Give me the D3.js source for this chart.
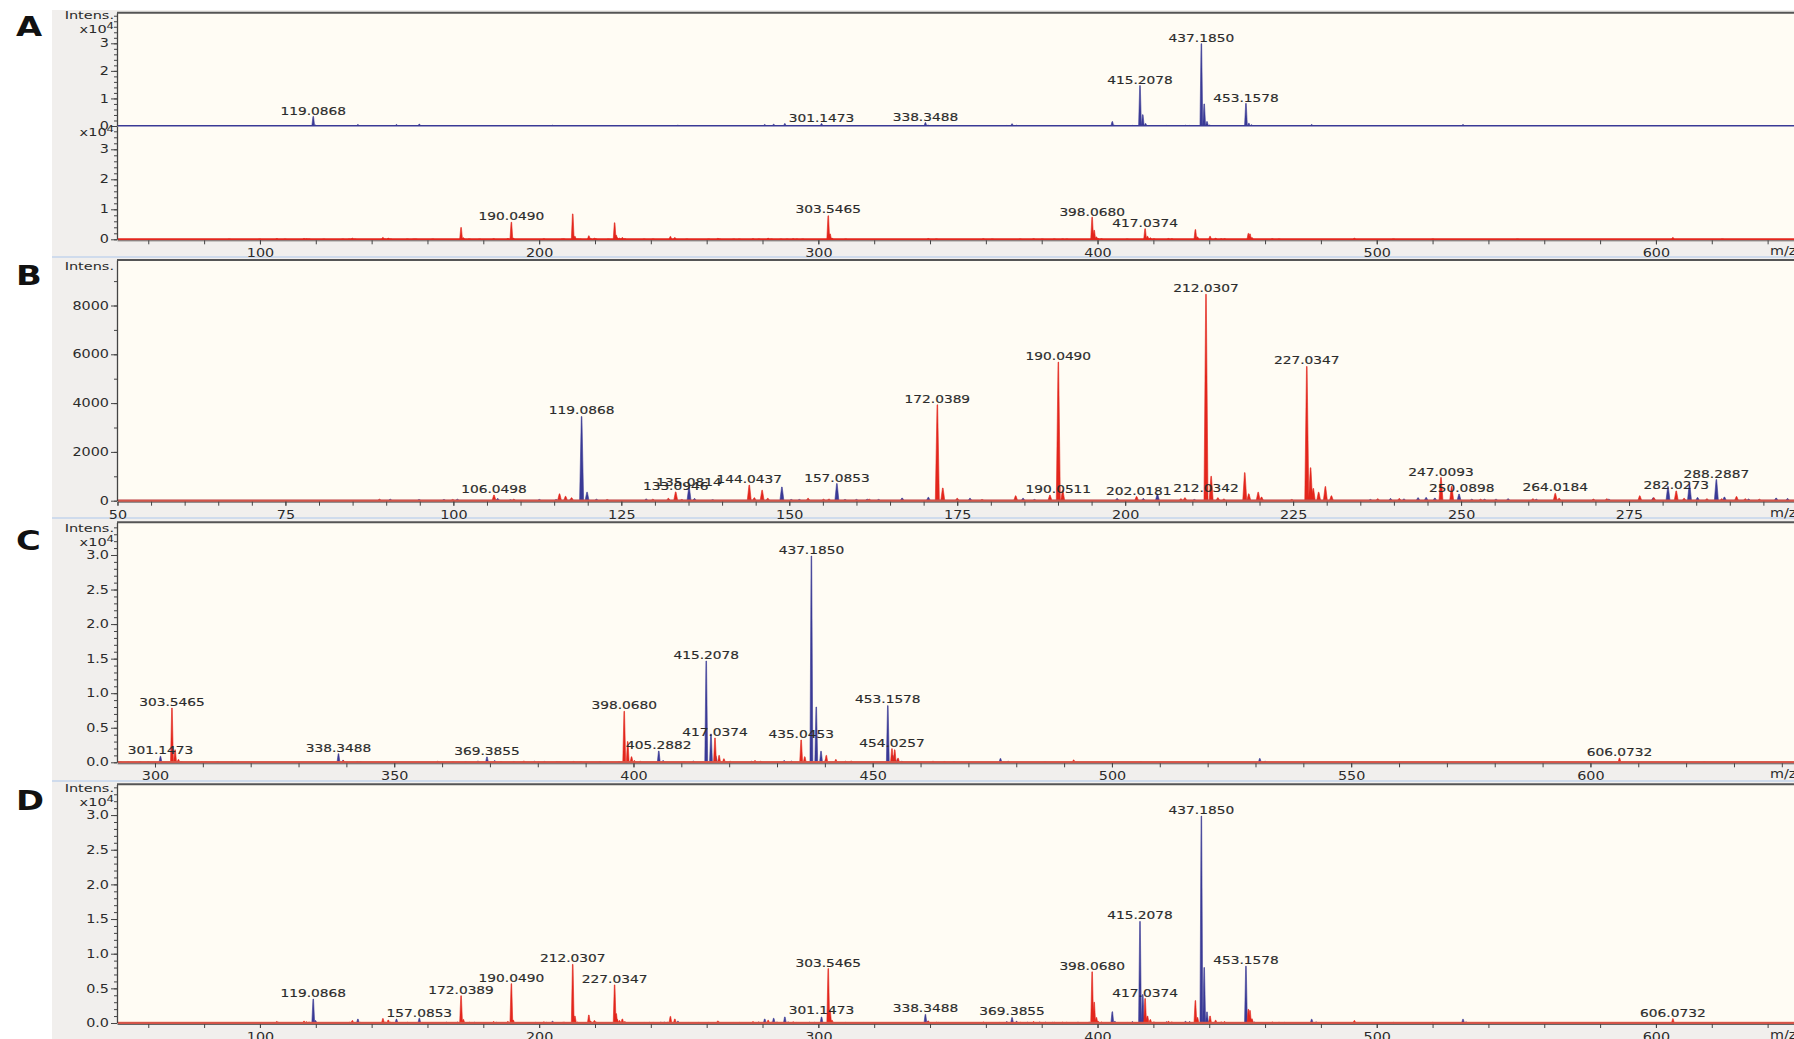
<!DOCTYPE html>
<html>
<head>
<meta charset="utf-8">
<script src="https://cdn.jsdelivr.net/npm/d3@7/dist/d3.min.js"></script>
<style>
  body { margin: 0; background: #fff; }
  svg { display: block; }
</style>
</head>
<body>
<svg id="chart" width="1794" height="1039"></svg>
<script>
// ---- data: peak lists (m/z, intensity in counts) ----
const blueMz = [90.6, 94.9, 98.6, 100.6, 106.6, 108.5, 112.8, 115.3, 117.5,
  119.0868, 119.9, 121.3, 128.7, 135.0814, 135.9, 138.6, 148.9, 150.3, 151.5,
  157.0853, 158.3, 160.0, 161.6, 163.3, 166.8, 170.7, 176.9, 184.8, 186.5, 198.8, 202.7, 204.8, 210.3,
  236.5, 239.5, 241.5, 243.6, 244.8, 246.1, 249.7, 251.6, 253.5, 255.2, 257.0, 261.2, 272.0, 278.6,
  280.8, 284.0, 285.2, 288.0, 289.2, 292.8, 296.9, 298.6,
  301.1473, 305.5, 310.6, 313.1, 316.1, 338.3488, 339.3, 342.9, 364.9, 367.5, 369.3855, 371.0, 375.0,
  379.3, 381.4, 384.0, 393.0, 397.0, 399.5,
  405.2882, 406.2, 412.5, 415.2078, 416.2, 417.2, 424.7, 431.5, 433.0, 437.1850, 438.2, 439.2, 440.2,
  453.1578, 454.2, 455.2, 456.1, 467.0, 476.7, 478.3, 486.0, 519.0, 530.9, 532.0];
const blueInt = [60, 50, 50, 60, 90, 40, 50, 50, 60,
  3450, 350, 60, 70, 560, 90, 40, 560, 50, 50,
  700, 50, 50, 60, 50, 110, 140, 100, 100, 50, 90, 90, 270, 50,
  50, 90, 70, 120, 130, 110, 270, 60, 60, 60, 80, 60, 60, 120,
  580, 680, 130, 870, 150, 70, 110, 90,
  870, 80, 60, 70, 70, 1240, 300, 90, 70, 200, 780, 250, 120,
  150, 120, 100, 110, 120, 100,
  1620, 250, 200, 14650, 4100, 900, 180, 250, 200, 29850, 8000, 1600, 400,
  8200, 1000, 450, 150, 80, 550, 150, 60, 60, 550, 150];

const redMz = [89.0, 99.9, 106.0498, 109.0, 115.8, 116.7, 117.6, 122.9, 129.7, 132.0, 133.0946, 134.0,
  144.0437, 144.8, 145.96, 146.8, 152.8, 155.1, 155.9, 161.9,
  172.0389, 172.85, 175.0, 178.7, 183.7, 188.8, 190.0490, 190.7, 201.7, 208.3, 208.9,
  212.0307, 212.8, 213.8, 214.7, 217.8, 218.4, 219.8, 220.3, 224.8, 227.0347, 227.6, 228.0, 228.8,
  229.8, 230.7, 237.6, 240.8, 247.0093, 248.6, 252.9, 260.7, 264.0184, 264.6, 269.7, 271.7, 276.6,
  278.7, 282.0273, 283.2, 286.6, 288.8, 291.0, 292.3, 294.4,
  303.5465, 304.2, 304.9, 309.8, 339.4, 342.3, 359.1, 362.3, 372.3, 377.1, 380.2, 384.5, 387.5, 389.0,
  398.0680, 398.8, 399.6, 400.2, 401.4, 410.6, 417.0374, 417.9, 418.9, 420.2, 425.4, 426.6,
  435.0453, 435.8, 440.3, 442.3, 444.3, 445.5,
  454.0257, 454.6, 455.3, 462.6, 465.0, 492.0, 506.0, 520.1, 550.4, 606.0732, 623.8];
const redInt = [60, 50, 230, 60, 280, 180, 120, 50, 60, 100, 360, 50,
  640, 120, 430, 100, 100, 60, 70, 60,
  3930, 520, 100, 50, 200, 230, 5680, 420, 170, 80, 120,
  8460, 1000, 120, 70, 1150, 280, 350, 150, 50, 5500, 1350, 500, 350,
  580, 200, 80, 90, 950, 580, 60, 80, 300, 100, 70, 80, 200,
  120, 400, 100, 80, 80, 170, 80, 60,
  7850, 1800, 400, 80, 250, 100, 150, 60, 100, 200, 60, 100, 120, 100,
  7380, 3000, 800, 250, 150, 80, 3520, 1000, 500, 150, 250, 150,
  3230, 800, 1000, 400, 150, 200,
  1970, 1800, 600, 150, 100, 350, 80, 100, 50, 620, 60];

// peak annotations per panel: [text, m/z, intensity the label sits on]
const labelsATop = [["119.0868", 119.09, 3250], ["301.1473", 301.15, 830], ["338.3488", 338.35, 1190],
  ["415.2078", 415.21, 14330], ["437.1850", 437.19, 29700], ["453.1578", 453.16, 7830]];
const labelsABottom = [["190.0490", 190.05, 5770], ["303.5465", 303.55, 8000],
  ["398.0680", 398.07, 7200], ["417.0374", 417.04, 3530]];
const labelsB = [["106.0498", 106.05, 221], ["119.0868", 119.09, 3470], ["133.0946", 133.09, 357],
  ["135.0814", 135.08, 533], ["144.0437", 144.04, 631], ["157.0853", 157.09, 697],
  ["172.0389", 172.04, 3934], ["190.0490", 190.05, 5684], ["190.0511", 190.05, 246],
  ["202.0181", 202.02, 152], ["212.0342", 212.03, 262], ["212.0307", 212.03, 8459],
  ["227.0347", 227.03, 5508], ["247.0093", 247.01, 930], ["250.0898", 250.09, 262],
  ["264.0184", 264.02, 316], ["282.0273", 282.03, 398], ["288.2887", 288.0, 861]];
const labelsC = [["301.1473", 301.15, 870], ["303.5465", 303.55, 7860], ["338.3488", 338.35, 1245],
  ["369.3855", 369.39, 767], ["398.0680", 398.07, 7380], ["405.2882", 405.29, 1635],
  ["415.2078", 415.21, 14660], ["417.0374", 417.04, 3517], ["435.0453", 435.05, 3227],
  ["437.1850", 437.19, 29855], ["453.1578", 453.16, 8250], ["454.0257", 454.03, 1968],
  ["606.0732", 606.07, 622]];
const labelsD = [["119.0868", 119.09, 3506], ["157.0853", 157.09, 620], ["172.0389", 172.04, 3896],
  ["190.0490", 190.05, 5671], ["212.0307", 212.03, 8470], ["227.0347", 227.03, 5440],
  ["301.1473", 301.15, 967], ["303.5465", 303.55, 7749], ["338.3488", 338.35, 1255],
  ["369.3855", 369.39, 822], ["398.0680", 398.07, 7359], ["415.2078", 415.21, 14675],
  ["417.0374", 417.04, 3506], ["437.1850", 437.19, 29870], ["453.1578", 453.16, 8182],
  ["606.0732", 606.07, 620]];

// axis ticks
const xTicksAD = [100, 200, 300, 400, 500, 600];
const xTicksB = [50, 75, 100, 125, 150, 175, 200, 225, 250, 275];
const xTicksC = [300, 350, 400, 450, 500, 550, 600];
const yTicksA = [0, 10000, 20000, 30000];
const yTicksB = [0, 2000, 4000, 6000, 8000];
const yTicksCD = [0, 5000, 10000, 15000, 20000, 25000, 30000];
const panelLetters = ["A", "B", "C", "D"];

// ---- drawing ----
const W = 1794, H = 1039, AX = 117, XR = 1800, SX = 1.25;
const FONT = "'DejaVu Sans', Verdana, sans-serif";
const BLUE = "#3a3a96", RED = "#e3261c", CREAM = "#fffcf4", GRAY = "#f1efed", INK = "#2b2b2b";

const svg = d3.select("#chart");
svg.append("rect").attr("width", W).attr("height", H).attr("fill", "#fff");
svg.append("rect").attr("x", 52).attr("y", 10).attr("width", W - 52).attr("height", H - 10).attr("fill", GRAY);
[257, 518, 781].forEach(yy => svg.append("rect").attr("x", 52).attr("y", yy - 1)
  .attr("width", W - 52).attr("height", 2).attr("fill", "#cfdbec"));

const letterY = [35.5, 285, 550, 810];
svg.selectAll("text.letter").data(panelLetters).join("text").attr("class", "letter")
  .attr("transform", (d, i) => `translate(16,${letterY[i]}) scale(1.3,1)`)
  .attr("font-family", FONT).attr("font-weight", "bold").attr("font-size", 26)
  .attr("fill", "#111").text(d => d);

let clipN = 0;
function plotArea(top, zero) {
  svg.append("rect").attr("x", AX).attr("y", top).attr("width", XR - AX)
    .attr("height", zero - top + 1).attr("fill", CREAM);
  const id = "clip" + (clipN++);
  svg.append("clipPath").attr("id", id).append("rect")
    .attr("x", AX + 1).attr("y", top).attr("width", XR - AX).attr("height", zero - top + 2);
  return svg.append("g").attr("clip-path", `url(#${id})`);
}

function drawPeaks(g, mz, inten, x, y, color) {
  const [d0, d1] = x.domain();
  const y0 = y(0);
  const hw = Math.max(1.4, (x(1) - x(0)) * 0.3);
  let d = "";
  mz.forEach((m, i) => {
    if (m < d0 || m > d1) return;
    const px = x(m), py = y(inten[i]);
    d += `M${px - hw},${y0}L${px - 0.3},${py}L${px + 0.3},${py}L${px + hw},${y0}Z`;
  });
  g.append("path").attr("d", d).attr("fill", color)
    .attr("stroke", color).attr("stroke-width", 0.6).attr("stroke-linejoin", "round");
}

function baseline(g, y, color, w, op) {
  g.append("line").attr("x1", AX).attr("x2", XR).attr("y1", y(0)).attr("y2", y(0))
    .attr("stroke", color).attr("stroke-width", w).attr("opacity", op);
}

function styleText(sel, size) {
  sel.attr("font-family", FONT).attr("font-size", size).attr("fill", INK);
}

function yAxis(y, ticks, minorStep, fmt) {
  const [lo, hi] = y.domain();
  const gm = svg.append("g").attr("transform", `translate(${AX},0)`)
    .call(d3.axisLeft(y).tickValues(d3.range(lo, hi, minorStep)).tickSize(3).tickFormat("").tickSizeOuter(0));
  gm.select(".domain").attr("stroke", "#444").attr("stroke-width", 1.3);
  gm.selectAll(".tick line").attr("stroke", "#444");
  const g = svg.append("g").attr("transform", `translate(${AX},0)`)
    .call(d3.axisLeft(y).tickValues(ticks).tickSize(6).tickFormat(fmt).tickSizeOuter(0));
  g.select(".domain").remove();
  g.selectAll(".tick line").attr("stroke", "#444");
  styleText(g.selectAll(".tick text"), 11.5);
  g.selectAll(".tick text").attr("x", -8 / SX).attr("transform", `scale(${SX},1)`);
}

function xAxis(x, zero, ticks, minorStep) {
  const [lo, hi] = x.domain();
  const gm = svg.append("g").attr("transform", `translate(0,${zero + 1})`)
    .call(d3.axisBottom(x).tickValues(d3.range(Math.ceil(lo / minorStep) * minorStep, hi, minorStep))
      .tickSize(4).tickFormat("").tickSizeOuter(0));
  gm.select(".domain").attr("stroke", "#666").attr("stroke-width", 1);
  gm.selectAll(".tick line").attr("stroke", "#444");
  const g = svg.append("g").attr("transform", `translate(0,${zero + 1})`)
    .call(d3.axisBottom(x).tickValues(ticks).tickSize(4).tickFormat(d3.format("d")).tickSizeOuter(0));
  g.select(".domain").remove();
  g.selectAll(".tick line").attr("stroke", "#444");
  styleText(g.selectAll(".tick text"), 11.5);
  g.selectAll(".tick text").attr("y", 9).attr("transform", `scale(${SX},1)`);
  const t = svg.append("text").attr("transform", `translate(1770,${zero + 16}) scale(${SX},1)`).text("m/z");
  styleText(t, 11.5);
}

function peakLabels(g, labels, x, y) {
  g.selectAll(null).data(labels).join("text")
    .attr("transform", d => `translate(${x(d[1])},${y(d[2]) - 2}) scale(${SX},1)`)
    .attr("text-anchor", "middle").attr("font-family", FONT).attr("font-size", 11)
    .attr("fill", INK).attr("stroke", INK).attr("stroke-width", 0.15).text(d => d[0]);
}

function intensLabel(yBase, withExp) {
  const t = svg.append("text").attr("transform", `translate(114,${yBase}) scale(1.45,1)`)
    .attr("text-anchor", "end").text("Intens.");
  styleText(t, 10);
  if (withExp) expLabel(yBase + 14);
}
function expLabel(yBase) {
  const t = svg.append("text").attr("transform", `translate(114,${yBase}) scale(1.45,1)`)
    .attr("text-anchor", "end");
  styleText(t, 10);
  t.append("tspan").text("x10");
  t.append("tspan").attr("dy", -4).attr("font-size", 8).text("4");
}

const fmtInt = d => d3.format("d")(d / 10000);
const fmt1 = d => d3.format(".1f")(d / 10000);

// ---- panel A: stacked spectra, full range ----
const xA = d3.scaleLinear().domain([48.8, 651.6]).range([AX, XR]);
const yAtop = d3.scaleLinear().domain([0, 41100]).range([126, 12.7]);
const yAbot = d3.scaleLinear().domain([0, 37770]).range([239.3, 126]);
const gAt = plotArea(12.7, 126);
const gAb = plotArea(126.5, 239.3);
drawPeaks(gAt, blueMz, blueInt, xA, yAtop, BLUE);
baseline(gAt, yAtop, BLUE, 2, 1);
drawPeaks(gAb, redMz, redInt, xA, yAbot, RED);
baseline(gAb, yAbot, RED, 2, 1);
svg.append("line").attr("x1", AX).attr("x2", XR).attr("y1", 12.7).attr("y2", 12.7)
  .attr("stroke", "#555").attr("stroke-width", 2);
yAxis(yAtop, yTicksA, 2000, fmtInt);
yAxis(yAbot, yTicksA, 2000, fmtInt);
xAxis(xA, 239.3, xTicksAD, 20);
peakLabels(svg.append("g"), labelsATop, xA, yAtop);
peakLabels(svg.append("g"), labelsABottom, xA, yAbot);
intensLabel(19, true);
expLabel(135.5);

// ---- panel B: overlay, 50-300 ----
const xB = d3.scaleLinear().domain([49.93, 300.45]).range([AX, XR]);
const yB = d3.scaleLinear().domain([0, 9865]).range([500.7, 260]);
const gB = plotArea(260, 500.7);
drawPeaks(gB, blueMz, blueInt, xB, yB, BLUE);
drawPeaks(gB, redMz, redInt, xB, yB, RED);
baseline(gB, yB, BLUE, 2, 1);
baseline(gB, yB, "#ef5a3c", 2.4, 0.85);
svg.append("line").attr("x1", AX).attr("x2", XR).attr("y1", 260).attr("y2", 260)
  .attr("stroke", "#555").attr("stroke-width", 2);
yAxis(yB, yTicksB, 1000, d3.format("d"));
xAxis(xB, 500.7, xTicksB, 5);
peakLabels(svg.append("g"), labelsB, xB, yB);
intensLabel(270, false);

// ---- panel C: overlay, 290-640 ----
const xC = d3.scaleLinear().domain([292.06, 643.8]).range([AX, XR]);
const yC = d3.scaleLinear().domain([0, 34730]).range([762.3, 522.3]);
const gC = plotArea(522.3, 762.3);
drawPeaks(gC, blueMz, blueInt, xC, yC, BLUE);
drawPeaks(gC, redMz, redInt, xC, yC, RED);
baseline(gC, yC, BLUE, 2, 1);
baseline(gC, yC, "#ef5a3c", 2.4, 0.85);
svg.append("line").attr("x1", AX).attr("x2", XR).attr("y1", 522.3).attr("y2", 522.3)
  .attr("stroke", "#555").attr("stroke-width", 2);
yAxis(yC, yTicksCD, 1000, fmt1);
xAxis(xC, 762.3, xTicksC, 10);
peakLabels(svg.append("g"), labelsC, xC, yC);
intensLabel(532, true);

// ---- panel D: overlay, full range ----
const xD = d3.scaleLinear().domain([48.8, 651.6]).range([AX, XR]);
const yD = d3.scaleLinear().domain([0, 34440]).range([1023, 784.3]);
const gD = plotArea(784.3, 1023);
drawPeaks(gD, blueMz, blueInt, xD, yD, BLUE);
drawPeaks(gD, redMz, redInt, xD, yD, RED);
baseline(gD, yD, BLUE, 2, 1);
baseline(gD, yD, "#ef5a3c", 2.4, 0.85);
svg.append("line").attr("x1", AX).attr("x2", XR).attr("y1", 784.3).attr("y2", 784.3)
  .attr("stroke", "#555").attr("stroke-width", 2);
yAxis(yD, yTicksCD, 1000, fmt1);
xAxis(xD, 1023, xTicksAD, 20);
peakLabels(svg.append("g"), labelsD, xD, yD);
intensLabel(792, true);
</script>
</body>
</html>
